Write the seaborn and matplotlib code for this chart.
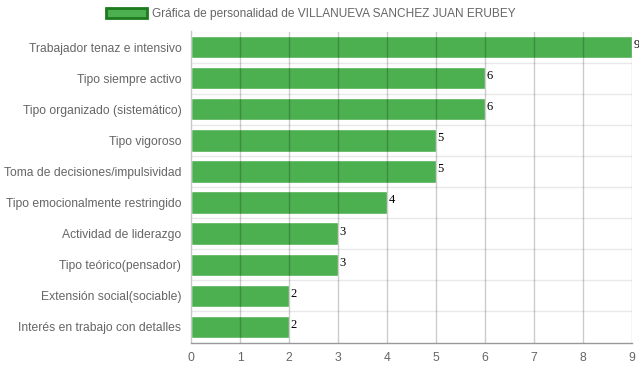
import matplotlib
matplotlib.use("Agg")
import matplotlib.pyplot as plt
import seaborn as sns
import pandas as pd
import numpy as np
from matplotlib.patches import Patch

categories = [
    "Trabajador tenaz e intensivo",
    "Tipo siempre activo",
    "Tipo organizado (sistemático)",
    "Tipo vigoroso",
    "Toma de decisiones/impulsividad",
    "Tipo emocionalmente restringido",
    "Actividad de liderazgo",
    "Tipo teórico(pensador)",
    "Extensión social(sociable)",
    "Interés en trabajo con detalles",
]
values = [9, 6, 6, 5, 5, 4, 3, 3, 2, 2]
x_ticks = [0, 1, 2, 3, 4, 5, 6, 7, 8, 9]
legend_label = "Gráfica de personalidad de VILLANUEVA SANCHEZ JUAN ERUBEY"

sns.set_theme(style="white")
plt.rcParams["font.family"] = ["Liberation Sans", "DejaVu Sans"]

df = pd.DataFrame({"cat": categories, "val": values})

fig = plt.figure(figsize=(6.39, 3.72), dpi=100)
ax = fig.add_axes([191 / 639, 29.5 / 372, 441 / 639, 311 / 372])

bar_color = "#4caf50"
sns.barplot(data=df, x="val", y="cat", orient="h", color=bar_color,
            saturation=1, width=0.72, ax=ax, zorder=1)

ax.set_xlim(0, 9)
ax.set_ylim(len(categories) - 0.5, -0.5)
ax.set_xlabel("")
ax.set_ylabel("")
ax.set_xticks(x_ticks)
ax.set_xticklabels([str(t) for t in x_ticks])

# vertical grid lines drawn above bars (semi-transparent)
for t in x_ticks[1:]:
    ax.axvline(t, color="black", alpha=0.2, lw=1, zorder=3)

# horizontal light grid at category boundaries
bounds = np.arange(-0.5, len(categories) + 0.5, 1)
ax.set_yticks(bounds, minor=True)
ax.grid(False)
for b in bounds[:-1]:
    ax.axhline(b, color="#e9e9e9", lw=1, zorder=0.5)

ax.tick_params(axis="y", which="major", length=0, pad=7, labelsize=8.7, labelcolor="#666666")
ax.tick_params(axis="y", which="minor", length=8, color="#e9e9e9", width=1)
ax.tick_params(axis="x", which="major", length=5, color="#c8c8c8", width=1,
               pad=2, labelsize=8.7, labelcolor="#666666")

for s in ["top", "right"]:
    ax.spines[s].set_visible(False)
ax.spines["left"].set_color("#c8c8c8")
ax.spines["bottom"].set_color("#999999")
ax.spines["left"].set_linewidth(1)
ax.spines["bottom"].set_linewidth(1)

for i, v in enumerate(values):
    ax.annotate(str(v), xy=(v, i), xytext=(1, 1.5), textcoords="offset points",
                ha="left", va="center", fontsize=9, color="black",
                family=["Liberation Serif", "DejaVu Serif"], annotation_clip=False)

handle = Patch(facecolor=bar_color, edgecolor="#1e7a1e", linewidth=2)
fig.legend([handle], [legend_label], loc="center", bbox_to_anchor=(311 / 639, 1 - 14 / 372),
           frameon=False, handlelength=3.4, handleheight=1.0, handletextpad=0.45,
           prop={"size": 8.6, "family": ["Liberation Sans", "DejaVu Sans"]},
           labelcolor="#666666", borderaxespad=0, borderpad=0)

fig.savefig("out.png", dpi=100)
